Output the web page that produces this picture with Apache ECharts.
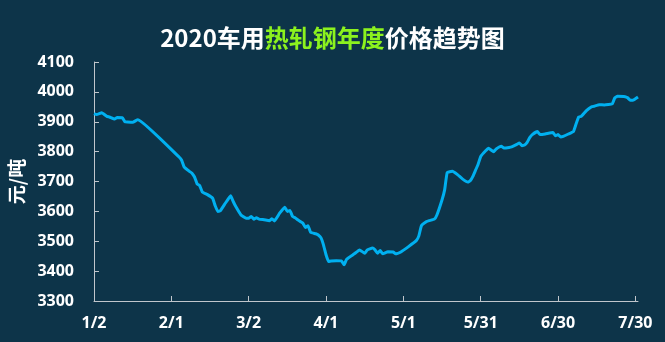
<!DOCTYPE html>
<html>
<head>
<meta charset="utf-8">
<script src="https://cdn.jsdelivr.net/npm/echarts@6/dist/echarts.min.js"></script>
<style>
html,body{margin:0;padding:0;background:#0d3449;}
#chart{width:665px;height:342px;}
</style>
</head>
<body>
<div id="chart"></div>
<script>
// x positions: days after Jan 2 (2020)
const tickDays = [0, 30, 60, 90, 120, 150, 180, 210];
const tickLabels = ['1/2', '2/1', '3/2', '4/1', '5/1', '5/31', '6/30', '7/30'];
const days = [
  0, 1, 3, 5, 6, 8, 9, 11, 12, 13, 15, 17,
  33, 34, 35, 37, 38, 39, 40, 41, 42, 44, 46, 47, 48, 49, 51, 53, 54, 55, 57, 59,
  60, 61, 62, 63, 64, 66, 68, 69, 70, 72, 74, 75, 76, 77, 78, 79, 81, 82, 83, 84,
  86, 87, 88, 89, 90, 91, 92, 94, 96, 97, 98, 101, 103, 105, 106, 108, 109, 110,
  111, 112, 114, 116, 117, 119, 122, 125, 126, 127, 129, 130, 132, 133, 135, 136,
  137, 139, 141, 143, 145, 146, 147, 148, 149, 150, 152, 153, 155, 156, 158, 159,
  161, 162, 164, 165, 166, 167, 168, 169, 170, 172, 173, 175, 178, 179, 180, 181,
  182, 184, 186, 187, 188, 189, 191, 193, 194, 196, 198, 201, 202, 203, 206, 207,
  208, 209, 211
];
const prices = [
  3927, 3924, 3930, 3918, 3916, 3909, 3914, 3913, 3900, 3899, 3898, 3907,
  3782, 3771, 3748, 3734, 3728, 3715, 3692, 3686, 3665, 3656, 3644, 3619, 3600, 3602, 3628, 3652, 3633, 3616, 3588, 3577,
  3577, 3583, 3574, 3579, 3574, 3572, 3569, 3575, 3568, 3594, 3614, 3600, 3603, 3583, 3579, 3572, 3561, 3546, 3552, 3530,
  3525, 3521, 3512, 3488, 3455, 3432, 3434, 3435, 3434, 3421, 3440, 3458, 3471, 3460, 3471, 3477, 3471, 3460,
  3469, 3458, 3465, 3464, 3458, 3464, 3482, 3502, 3518, 3552, 3566, 3569, 3574, 3588, 3639, 3672,
  3730, 3734, 3723, 3708, 3698, 3703, 3718, 3738, 3758, 3784, 3804, 3811, 3800, 3809, 3818, 3812,
  3814, 3816, 3824, 3829, 3820, 3822, 3831, 3847, 3857, 3867, 3857, 3859, 3864, 3853, 3857, 3849,
  3851, 3859, 3868, 3893, 3916, 3918, 3937, 3950, 3952, 3957, 3956, 3960, 3980, 3985, 3984, 3980,
  3972, 3972, 3983
];
const yTicks = { min: 3300, max: 4100, interval: 100 };

const seriesData = days.map((d, i) => [d, prices[i]]);
const chart = echarts.init(document.getElementById('chart'));
const axisColor = '#c0c6cc';
const labelFont = 'Noto Sans, sans-serif';
chart.setOption({
  backgroundColor: '#0d3449',
  animation: false,
  title: {
    left: 'center',
    top: 21,
    text: '{w|2020车用}{g|热轧钢年度}{w|价格趋势图}',
    textStyle: {
      rich: {
        w: { color: '#ffffff', fontSize: 24, fontWeight: 'bold', fontFamily: 'Noto Sans CJK SC' },
        g: { color: '#8cf21e', fontSize: 24, fontWeight: 'bold', fontFamily: 'Noto Sans CJK SC' }
      }
    }
  },
  grid: { left: 94, right: 27, top: 62, bottom: 41, containLabel: false, outerBoundsMode: 'none' },
  xAxis: {
    type: 'value',
    min: 0,
    max: 211,
    interval: 30,
    splitLine: { show: false },
    axisLine: { show: true, lineStyle: { color: axisColor, width: 1 } },
    axisTick: { show: true, inside: true, length: 5, customValues: tickDays, lineStyle: { color: axisColor } },
    axisLabel: {
      customValues: tickDays,
      formatter: v => tickLabels[tickDays.indexOf(v)] || '',
      color: '#ffffff', fontSize: 16, fontWeight: 'bold', fontFamily: labelFont, margin: 14
    }
  },
  yAxis: {
    type: 'value',
    min: yTicks.min,
    max: yTicks.max,
    interval: yTicks.interval,
    name: '元/吨',
    nameLocation: 'middle',
    nameRotate: 90,
    nameGap: 64,
    nameTextStyle: { color: '#ffffff', fontSize: 19, fontWeight: 'bold', fontFamily: 'Noto Sans CJK SC' },
    splitLine: { show: false },
    axisLine: { show: true, lineStyle: { color: axisColor, width: 1 } },
    axisTick: { show: true, inside: true, length: 5, lineStyle: { color: axisColor } },
    axisLabel: {
      formatter: v => String(v),
      color: '#ffffff', fontSize: 16, fontWeight: 'bold', fontFamily: labelFont, margin: 20
    }
  },
  series: [{
    type: 'line',
    data: seriesData,
    showSymbol: false,
    smooth: 0.1,
    lineStyle: { color: '#00b0f0', width: 3 },
    itemStyle: { color: '#00b0f0' }
  }]
});
</script>
</body>
</html>
